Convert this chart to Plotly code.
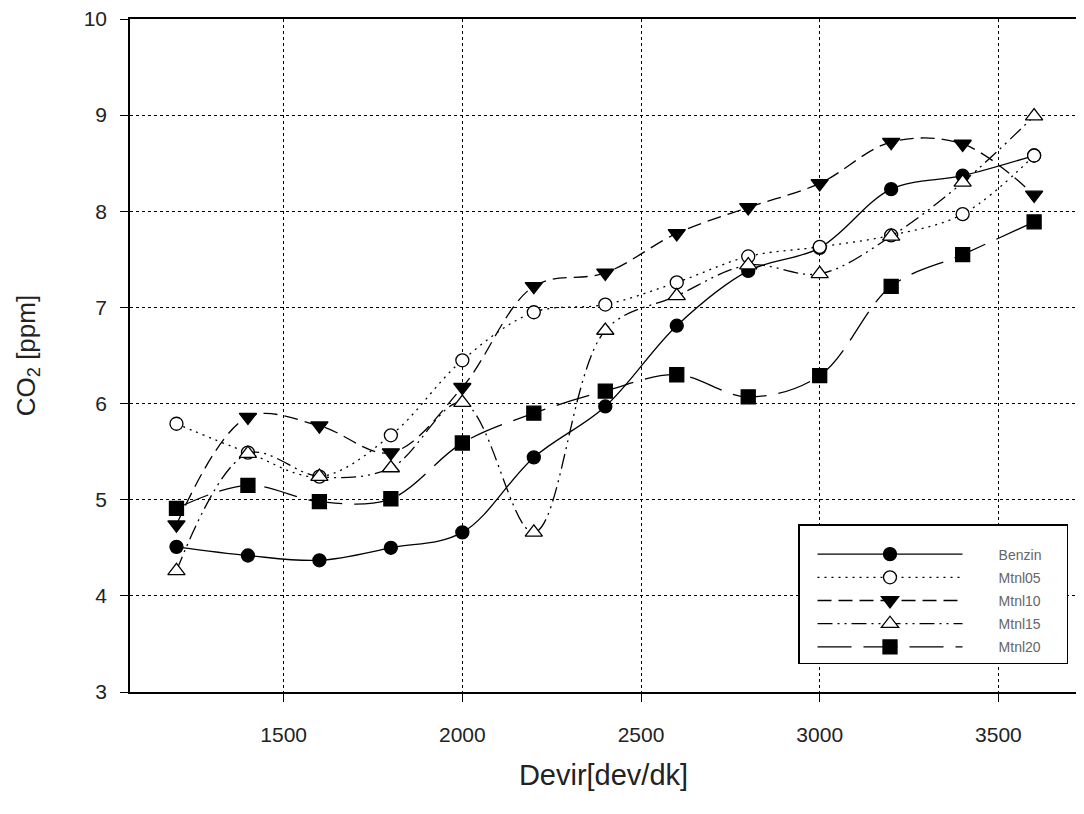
import plotly.graph_objects as go

rpm = [1200, 1400, 1600, 1800, 2000, 2200, 2400, 2600, 2800, 3000, 3200, 3400, 3600]

benzin = [4.51, 4.42, 4.37, 4.50, 4.66, 5.44, 5.97, 6.81, 7.38, 7.62, 8.23, 8.37, 8.58]
mtnl05 = [5.79, 5.49, 5.24, 5.67, 6.45, 6.95, 7.03, 7.26, 7.53, 7.63, 7.75, 7.97, 8.58]
mtnl10 = [4.74, 5.86, 5.77, 5.49, 6.17, 7.22, 7.36, 7.77, 8.04, 8.29, 8.72, 8.70, 8.17]
mtnl15 = [4.26, 5.48, 5.24, 5.33, 6.01, 4.66, 6.76, 7.12, 7.44, 7.35, 7.74, 8.30, 8.99]
mtnl20 = [4.91, 5.15, 4.98, 5.01, 5.59, 5.90, 6.13, 6.30, 6.07, 6.29, 7.22, 7.55, 7.89]

series_names = ["Benzin", "Mtnl05", "Mtnl10", "Mtnl15", "Mtnl20"]
series_values = [benzin, mtnl05, mtnl10, mtnl15, mtnl20]

x_ticks = [1500, 2000, 2500, 3000, 3500]
y_ticks = [3, 4, 5, 6, 7, 8, 9, 10]

styles = [
    dict(dash="solid", symbol="circle", fill="black", size=13),
    dict(dash="2px,5px", symbol="circle", fill="white", size=13),
    dict(dash="14px,7px", symbol="triangle-down", fill="black", size=15),
    dict(dash="15px,5px,2px,5px,2px,5px", symbol="triangle-up", fill="white", size=15),
    dict(dash="34px,12px", symbol="square", fill="black", size=14),
]

NB = "\u00a0"
fig = go.Figure()
for name, vals, st in zip(series_names, series_values, styles):
    fig.add_trace(go.Scatter(
        x=rpm, y=vals, name=NB * 8 + name + NB * 5, legendgroup=name,
        mode="lines+markers",
        line=dict(color="black", width=1.3, dash=st["dash"], shape="spline", smoothing=1.0),
        marker=dict(symbol=st["symbol"], size=st["size"], color=st["fill"],
                    line=dict(color="black", width=1.3)),
    ))

font = "Liberation Sans, Arial, sans-serif"
W, H = 1076, 806
L, R, T, B = 122, 7, 11, 122
pw, ph = W - L - R, H - T - B

fig.update_layout(
    width=W, height=H,
    margin=dict(l=L, r=R, t=T, b=B, autoexpand=False),
    paper_bgcolor="white", plot_bgcolor="white",
    font=dict(family=font, color="#222"),
    showlegend=True,
    legend=dict(
        x=(790 - L) / pw, y=(H - B - 516) / ph, xanchor="left", yanchor="top",
        bordercolor="black", borderwidth=1.5, bgcolor="white",
        font=dict(size=14, color="#666", family=font),
        title=dict(text=NB, font=dict(size=10)),
        itemwidth=145, tracegroupgap=2, itemsizing="trace", indentation=13,
    ),
    xaxis=dict(
        range=[1070, 3720], tickvals=x_ticks, ticktext=[str(v) for v in x_ticks],
        automargin=False,
        showgrid=True, gridcolor="black", griddash="dot", gridwidth=1,
        showline=True, linecolor="black", linewidth=1.5, mirror=True,
        ticks="outside", ticklen=8, tickcolor="black", ticklabelstandoff=15,
        tickfont=dict(size=21, family=font, color="#222"),
        title=dict(text="Devir[dev/dk]", font=dict(size=29, family=font, color="#222"), standoff=20),
        zeroline=False,
    ),
    yaxis=dict(
        range=[3, 10], tickvals=y_ticks, ticklabeloverflow="allow",
        automargin=False,
        showgrid=True, gridcolor="black", griddash="dot", gridwidth=1,
        showline=True, linecolor="black", linewidth=1.5, mirror=True,
        ticks="outside", ticklen=8, tickcolor="black", ticklabelstandoff=9,
        tickfont=dict(size=21, family=font, color="#222"),
        title=dict(text="CO<sub>2</sub> [ppm]", font=dict(size=26, family=font, color="#222"), standoff=41),
        zeroline=False,
    ),
)

fig.write_html("out.html")
